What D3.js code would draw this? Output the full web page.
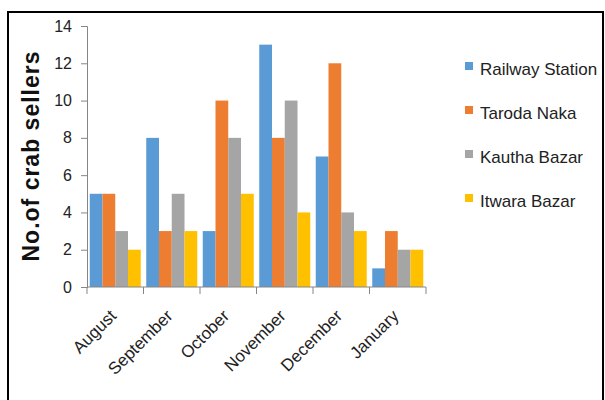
<!DOCTYPE html>
<html>
<head>
<meta charset="utf-8">
<script src="https://cdn.jsdelivr.net/npm/d3@7"></script>
<style>
  html, body { margin: 0; padding: 0; background: #fff; }
  svg { display: block; }
  .narrow { font-family: "Liberation Sans Narrow", "Arial Narrow", "Liberation Sans", sans-serif; }
</style>
</head>
<body>
<svg id="chart" width="605" height="400"></svg>
<script>
// Monthly counts of crab sellers at four markets
const months = ["August", "September", "October", "November", "December", "January"];
const seriesNames = ["Railway Station", "Taroda Naka", "Kautha Bazar", "Itwara Bazar"];
const railwayStation = [5, 8, 3, 13, 7, 1];
const tarodaNaka = [5, 3, 10, 8, 12, 3];
const kauthaBazar = [3, 5, 8, 10, 4, 2];
const itwaraBazar = [2, 3, 5, 4, 3, 2];
const yTicks = [0, 2, 4, 6, 8, 10, 12, 14];
const colors = ["#5b9bd5", "#ed7d31", "#a5a5a5", "#ffc000"];

const seriesValues = [railwayStation, tarodaNaka, kauthaBazar, itwaraBazar];
const table = months.map((m, i) => ({
  month: m,
  values: seriesNames.map((s, j) => ({ key: s, value: seriesValues[j][i], idx: j }))
}));

const svg = d3.select("#chart");

// outer frame
svg.append("rect")
  .attr("x", 8).attr("y", 12)
  .attr("width", 595).attr("height", 400)
  .attr("fill", "none").attr("stroke", "#000").attr("stroke-width", 2);

const plot = { left: 87, right: 426, top: 26, bottom: 287 };

const x0 = d3.scaleBand().domain(months).range([plot.left, plot.right]).paddingInner(0).paddingOuter(0);
const x1 = d3.scaleBand().domain(seriesNames).range([0, x0.bandwidth()]).paddingInner(0).paddingOuter(0.215);
const y = d3.scaleLinear().domain([0, 14]).range([plot.bottom, plot.top]);

// bars
const groups = svg.append("g").selectAll("g").data(table).join("g")
  .attr("transform", d => `translate(${x0(d.month)},0)`);
groups.selectAll("rect").data(d => d.values).join("rect")
  .attr("x", d => x1(d.key))
  .attr("y", d => y(d.value))
  .attr("width", x1.bandwidth())
  .attr("height", d => y(0) - y(d.value))
  .attr("fill", d => colors[d.idx]);

// y axis
const yAxis = svg.append("g")
  .attr("transform", `translate(${plot.left},0)`)
  .call(d3.axisLeft(y).tickValues(yTicks).tickSize(6).tickPadding(9));
yAxis.select(".domain").attr("stroke", "#868686");
yAxis.selectAll(".tick line").attr("stroke", "#868686");
yAxis.selectAll(".tick text")
  .attr("class", "narrow")
  .attr("font-size", 16).attr("fill", "#222");

// x axis with ticks at category boundaries
const xAxis = svg.append("g").attr("transform", `translate(0,${plot.bottom})`);
xAxis.append("line")
  .attr("x1", plot.left).attr("x2", plot.right)
  .attr("stroke", "#868686");
const boundaries = months.map(m => x0(m)).concat([plot.right]);
xAxis.selectAll("line.tk").data(boundaries).join("line")
  .attr("class", "tk")
  .attr("x1", d => d).attr("x2", d => d)
  .attr("y1", 0).attr("y2", 7)
  .attr("stroke", "#868686");
xAxis.selectAll("text").data(months).join("text")
  .attr("class", "narrow")
  .attr("font-size", 17).attr("fill", "#222")
  .attr("text-anchor", "end")
  .attr("transform", d => `translate(${x0(d) + x0.bandwidth() / 2 + 2},${30}) rotate(-45)`)
  .text(d => d);

// y axis title
svg.append("text")
  .attr("transform", `translate(39,156) rotate(-90)`)
  .attr("text-anchor", "middle")
  .attr("font-family", "Liberation Sans, Arial, sans-serif")
  .attr("font-weight", "bold")
  .attr("font-size", 23)
  .attr("letter-spacing", 1)
  .attr("fill", "#111")
  .text("No.of crab sellers");

// legend
const legend = svg.append("g").selectAll("g").data(seriesNames).join("g")
  .attr("transform", (d, i) => `translate(465,${69 + i * 44})`);
legend.append("rect")
  .attr("x", 0).attr("y", -7).attr("width", 8).attr("height", 8)
  .attr("fill", (d, i) => colors[i]);
legend.append("text")
  .attr("class", "narrow")
  .attr("x", 15).attr("y", 0).attr("dy", "0.35em")
  .attr("font-size", 17).attr("fill", "#222")
  .text(d => d);
</script>
</body>
</html>
